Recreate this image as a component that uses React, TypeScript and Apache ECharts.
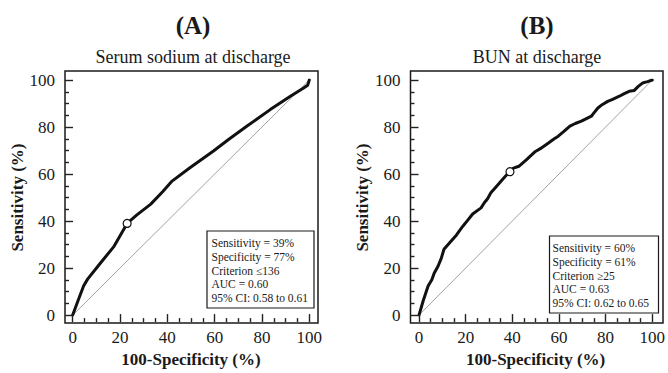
import React, { useEffect, useRef } from "react";
import * as echarts from "echarts";

// ---- data ----
const axisMin = 0;
const axisMax = 100;
const majorStep = 20;
const minorSegments = 4; // minor ticks every 5 units

const panelTitles = ["(A)", "(B)"];
const panelSubtitles = ["Serum sodium at discharge", "BUN at discharge"];

const diagonal = [
  [0, 0],
  [100, 100],
];

const rocSodium = [
  [0, 0], [2.2, 6], [4.6, 12.4], [6.3, 15.3], [12, 22.5], [17.3, 29], [23, 39],
  [27, 42.5], [33, 47.2], [38, 52.5], [42, 57], [49.4, 62.6], [59.5, 69.8],
  [66, 74.8], [73.7, 80.4], [83.5, 87.4], [92, 93.1], [97.6, 96.6], [99.3, 97.8], [100, 100],
];
const cutSodium = [[23, 39]];

const rocBun = [
  [0, 0], [1.8, 6.1], [3.9, 12.4], [5.5, 15], [6.5, 17.8], [8.2, 20.9], [9.5, 24],
  [10.7, 28], [13.8, 31.5], [16, 34], [18.8, 37.8], [21, 40.5], [23, 43],
  [26.6, 45.6], [28, 47.8], [29.4, 49.5], [30.8, 52], [33, 54.5], [35.7, 57.6],
  [38.6, 60.8], [40.5, 62.5], [42.8, 63.3], [46, 66], [49.9, 69.6], [52, 70.8],
  [55.5, 73.2], [58, 75], [59.7, 76.1], [62, 78], [64.7, 80.4], [67, 81.5],
  [69.6, 82.5], [72, 83.7], [73.9, 84.6], [75, 86], [76.7, 88.1], [78.5, 89.5],
  [80.9, 90.9], [83, 91.8], [85.9, 93.1], [88, 94.2], [90.1, 95.2], [92.2, 95.5],
  [94, 97.3], [95.8, 98.7], [98, 99.3], [100, 100],
];
const cutBun = [[39, 61]];

const statsSodium = [
  "Sensitivity = 39%",
  "Specificity = 77%",
  "Criterion \u2264136",
  "AUC = 0.60",
  "95% CI: 0.58 to 0.61",
];
const statsBun = [
  "Sensitivity = 60%",
  "Specificity = 61%",
  "Criterion \u226525",
  "AUC = 0.63",
  "95% CI: 0.62 to 0.65",
];

const FONT = "'Liberation Serif', 'Times New Roman', serif";
const INK = "#1a1a1a";

// data areas (0..100) and outer frames
const dataGrids = [
  { left: 72.7, top: 80, width: 236.6, height: 236 },
  { left: 419, top: 80, width: 236.5, height: 236 },
];
const frames = [
  { x: 65, y: 71, w: 253, h: 252 },
  { x: 410.5, y: 71, w: 252.5, h: 252 },
];

const boxes = [
  { x: 207, y: 231, w: 107, h: 77, stats: statsSodium, pad: 4.5 },
  { x: 549.5, y: 236, w: 109, h: 77, stats: statsBun, pad: 3 },
];

export default function App() {
  const ref = useRef<HTMLDivElement>(null);
  useEffect(() => {
    if (!ref.current) return;
    const chart = echarts.init(ref.current, undefined, { renderer: "svg" });

    const tickStyle = { color: "#222222", width: 1.4 };
    const xAxes: any[] = [];
    const yAxes: any[] = [];
    [0, 1].forEach((g) => {
      const dg = dataGrids[g];
      const fr = frames[g];
      const xOffset = fr.y + fr.h - (dg.top + dg.height);
      const yOffset = dg.left - fr.x;
      xAxes.push({
        gridIndex: g,
        type: "value",
        min: axisMin,
        max: axisMax,
        interval: majorStep,
        offset: xOffset,
        z: 50,
        name: "100-Specificity (%)",
        nameLocation: "middle",
        nameGap: 25,
        nameTextStyle: { fontFamily: FONT, fontWeight: "bold", fontSize: 17, color: INK },
        axisLine: { show: false, onZero: false },
        splitLine: { show: false },
        axisTick: { show: true, inside: true, length: 8, lineStyle: tickStyle },
        minorTick: { show: true, splitNumber: minorSegments, length: 4, lineStyle: tickStyle },
        axisLabel: { fontFamily: FONT, fontSize: 17, color: INK, margin: 7 },
      });
      yAxes.push({
        gridIndex: g,
        type: "value",
        min: axisMin,
        max: axisMax,
        interval: majorStep,
        offset: yOffset,
        z: 50,
        name: "Sensitivity (%)",
        nameLocation: "middle",
        nameGap: 36,
        nameTextStyle: { fontFamily: FONT, fontWeight: "bold", fontSize: 17, color: INK },
        axisLine: { show: false, onZero: false },
        splitLine: { show: false },
        axisTick: { show: true, inside: true, length: 8, lineStyle: tickStyle },
        minorTick: { show: true, splitNumber: minorSegments, length: 4, lineStyle: tickStyle },
        axisLabel: { fontFamily: FONT, fontSize: 17, color: INK, margin: 10 },
      });
    });

    const rocs = [rocSodium, rocBun];
    const cuts = [cutSodium, cutBun];
    const series: any[] = [];
    [0, 1].forEach((g) => {
      series.push({
        type: "line",
        xAxisIndex: g,
        yAxisIndex: g,
        data: diagonal,
        showSymbol: false,
        lineStyle: { color: "#8a8a8a", width: 0.8 },
        z: 2,
      });
      series.push({
        type: "line",
        xAxisIndex: g,
        yAxisIndex: g,
        data: rocs[g],
        showSymbol: false,
        lineStyle: { color: "#111", width: 3, join: "round", cap: "round" },
        z: 3,
      });
      series.push({
        type: "scatter",
        xAxisIndex: g,
        yAxisIndex: g,
        data: cuts[g],
        symbol: "circle",
        symbolSize: 8,
        itemStyle: { color: "#ffffff", borderColor: "#111", borderWidth: 1.2, opacity: 1 },
        z: 4,
      });
    });

    const graphics: any[] = [];
    [0, 1].forEach((g) => {
      const cx = g === 0 ? 193 : 537;
      const fr = frames[g];
      graphics.push({
        type: "rect",
        shape: { x: fr.x, y: fr.y, width: fr.w, height: fr.h },
        style: { fill: null, stroke: INK, lineWidth: 1.5 },
        silent: true,
        z: 20,
      });
      graphics.push({
        type: "text",
        x: cx,
        y: 25,
        style: {
          text: panelTitles[g],
          fontFamily: FONT,
          fontWeight: "bold",
          fontSize: 25,
          fill: INK,
          textAlign: "center",
          textVerticalAlign: "middle",
        },
      });
      graphics.push({
        type: "text",
        x: cx,
        y: 57,
        style: {
          text: panelSubtitles[g],
          fontFamily: FONT,
          fontSize: 18,
          fill: INK,
          textAlign: "center",
          textVerticalAlign: "middle",
        },
      });
      const b = boxes[g];
      graphics.push({
        type: "rect",
        shape: { x: b.x, y: b.y, width: b.w, height: b.h },
        style: { fill: "#fff", stroke: INK, lineWidth: 1.2 },
        z: 10,
      });
      b.stats.forEach((s, i) => {
        graphics.push({
          type: "text",
          x: b.x + b.pad,
          y: b.y + 12 + i * 13.8,
          z: 11,
          style: {
            text: s,
            fontFamily: FONT,
            fontSize: 11.5,
            fill: INK,
            textAlign: "left",
            textVerticalAlign: "middle",
          },
        });
      });
    });

    chart.setOption({
      animation: false,
      grid: dataGrids.map((gr) => ({ ...gr, show: false, containLabel: false })),
      xAxis: xAxes,
      yAxis: yAxes,
      series,
      graphic: graphics,
    });
    return () => chart.dispose();
  }, []);

  return (
    <div
      ref={ref}
      style={{ position: "absolute", left: 0, top: 0, width: 668, height: 373 }}
    />
  );
}
